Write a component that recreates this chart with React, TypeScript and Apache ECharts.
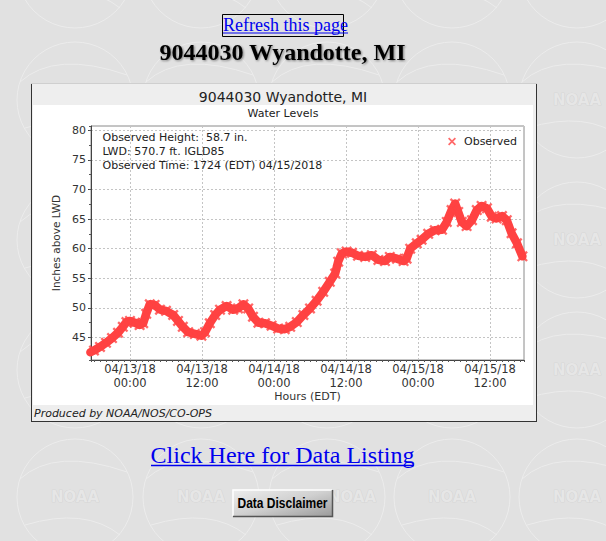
import React, { useEffect, useRef } from 'react';
import * as echarts from 'echarts';

// Hours relative to 04/13/18 00:00 EDT
const obsHours = [
  -6.6, -6.0, -5.0, -4.0, -3.0, -2.0, -1.2, -0.6, 0.0, 0.8, 1.6, 2.2, 2.7, 3.3, 4.1, 5.0, 6.0, 7.2, 8.0, 8.8,
  9.7, 10.8, 11.9, 12.5, 13.3, 14.2, 15.0, 16.1, 17.2, 18.0, 18.9, 19.7, 20.5, 21.4, 22.5, 23.6, 24.7, 25.8,
  26.7, 27.8, 28.9, 30.0, 31.1, 32.2, 33.3, 34.2, 34.7, 35.3, 36.1, 37.0, 38.0, 39.2, 40.3, 41.4, 42.5, 43.3,
  44.5, 45.6, 46.1, 46.7, 47.8, 48.6, 49.7, 50.8, 52.0, 52.8, 53.6, 54.2, 54.7, 55.3, 56.1, 57.0, 57.8, 58.6,
  59.5, 60.3, 61.1, 62.0, 62.8, 63.6, 64.5, 65.4,
];
// Water level, inches above LWD
const obsLevels = [
  42.5, 42.8, 43.4, 44.1, 44.9, 45.8, 46.8, 47.6, 47.8, 47.5, 47.1, 47.4, 49.0, 50.6, 50.5, 49.7, 49.5, 48.8, 47.8, 46.8,
  45.9, 45.6, 45.3, 45.9, 47.4, 48.8, 49.7, 50.3, 49.7, 49.9, 50.6, 49.9, 48.5, 47.5, 47.4, 47.0, 46.5, 46.4,
  46.8, 47.6, 48.8, 49.9, 51.2, 52.7, 54.4, 55.8, 57.8, 59.2, 59.5, 59.3, 58.8, 58.6, 58.9, 58.1, 57.9, 58.6,
  58.3, 57.9, 58.3, 60.0, 60.9, 61.5, 62.5, 63.1, 63.2, 64.5, 66.5, 67.6, 66.2, 64.5, 63.8, 64.8, 66.5, 67.2,
  66.8, 65.4, 65.1, 65.5, 64.8, 62.6, 60.9, 58.7,
];
const xTickHours = [0, 12, 24, 36, 48, 60];
const xTickLabels = ['04/13/18\n00:00', '04/13/18\n12:00', '04/14/18\n00:00', '04/14/18\n12:00', '04/15/18\n00:00', '04/15/18\n12:00'];
const infoLines = ['Observed Height:  58.7 in.', 'LWD: 570.7 ft. IGLD85', 'Observed Time: 1724 (EDT) 04/15/2018'];

const RED = '#ff4242';
const X_PATH = 'path://M0,1.5L1.5,0L5,3.5L8.5,0L10,1.5L6.5,5L10,8.5L8.5,10L5,6.5L1.5,10L0,8.5L3.5,5Z';
const SANS = '"DejaVu Sans", sans-serif';
const SERIF = '"Liberation Serif", "Times New Roman", serif';

const GL = 91, GT = 126, GW = 433, GH = 234;

const WM_COLS = [75, 201, 327, 452, 577];
const WM_ROWS = [-30, 100, 240, 370, 497];

function watermarkText(x: number, y: number) {
  return {
    type: 'text', x, y, z: -30,
    style: { text: 'NOAA', font: 'bold 15px "DejaVu Sans"', fill: '#e6e6e6', stroke: '#cfcfcf', lineWidth: 0.7, align: 'center', verticalAlign: 'middle' },
  };
}
function watermarkSwirl(x: number, y: number) {
  return [
    { type: 'arc', z: -31, shape: { cx: x, cy: y, r: 58, startAngle: 0, endAngle: Math.PI * 2 }, style: { stroke: '#ececec', lineWidth: 1, fill: null } },
    { type: 'bezierCurve', z: -31, shape: { x1: x - 55, y1: y - 18, cpx1: x - 20, cpy1: y - 50, x2: x + 52, y2: y - 25 }, style: { stroke: '#ececec', lineWidth: 1, fill: null } },
    { type: 'bezierCurve', z: -31, shape: { x1: x - 50, y1: y + 28, cpx1: x + 10, cpy1: y + 10, x2: x + 45, y2: y + 38 }, style: { stroke: '#ececec', lineWidth: 1, fill: null } },
  ];
}

export default function App() {
  const ref = useRef<HTMLDivElement>(null);
  useEffect(() => {
    const chart = echarts.init(ref.current!, null, { renderer: 'svg' });
    const pts = obsHours.map((h, i) => [h, obsLevels[i]]);
    const swirls: any[] = [];
    WM_COLS.forEach((x) => WM_ROWS.forEach((y) => swirls.push(...watermarkSwirl(x, y))));
    const wm = [
      [577, 100], [577, 240], [577, 370], [577, 497], [452, 497], [352, 497], [201, 497], [75, 497],
    ].map(([x, y]) => watermarkText(x, y));
    const option: any = {
      animation: false,
      backgroundColor: '#e1e1e1',
      grid: { left: GL, top: GT, width: GW, height: GH, show: true, borderColor: '#8a8a8a', borderWidth: 1, backgroundColor: '#ffffff', outerBoundsMode: 'none', containLabel: false },
      legend: {
        data: ['Observed'], left: 448, top: 136, padding: 0, itemWidth: 8, itemHeight: 8, icon: X_PATH,
        textStyle: { fontSize: 11, fontFamily: SANS, color: '#222', padding: [0, 0, 0, 3] },
      },
      xAxis: [
        {
          type: 'value', position: 'bottom', min: -6.5, max: 65.67, minInterval: 12, maxInterval: 12, splitNumber: 6,
          name: 'Hours (EDT)', nameLocation: 'middle', nameGap: 22,
          nameTextStyle: { fontSize: 11, fontFamily: SANS, color: '#333' },
          axisLine: { onZero: false, lineStyle: { color: '#444', width: 1 } },
          axisTick: { show: false },
          axisLabel: {
            margin: 2, fontSize: 11.5, lineHeight: 14, fontFamily: SANS, color: '#333', showMinLabel: false, showMaxLabel: false,
            formatter: (v: number) => {
              const i = xTickHours.findIndex((t) => Math.abs(t - v) < 1e-6);
              return i >= 0 ? xTickLabels[i] : '';
            },
          },
          splitLine: { show: true, lineStyle: { color: '#c4c4c4', type: [2, 2], width: 1 } },
        },
        {
          type: 'value', position: 'bottom', min: -6.5, max: 65.67, minInterval: 1, maxInterval: 1, splitNumber: 72,
          axisLine: { show: false, onZero: false }, axisLabel: { show: false }, splitLine: { show: false },
          axisTick: { show: true, length: 2, lineStyle: { color: '#555' } },
        },
      ],
      yAxis: [
        {
          type: 'value', position: 'left', min: 41.2, max: 80.7, minInterval: 5, maxInterval: 5, splitNumber: 8,
          name: 'Inches above LWD', nameLocation: 'middle', nameGap: 21,
          nameTextStyle: { fontSize: 10.5, fontFamily: SANS, color: '#333' },
          axisLine: { show: true, onZero: false, lineStyle: { color: '#444', width: 1 } },
          axisTick: { show: true, length: 3, lineStyle: { color: '#444' } },
          axisLabel: {
            margin: 5, fontSize: 11, fontFamily: SANS, color: '#333', showMinLabel: false, showMaxLabel: false,
            formatter: (v: number) => (Math.abs(v % 5) < 1e-6 ? String(v) : ''),
          },
          splitLine: { show: true, lineStyle: { color: '#c4c4c4', type: [2, 2], width: 1 } },
        },
        {
          type: 'value', position: 'left', min: 41.2, max: 80.7, minInterval: 2.5, maxInterval: 2.5, splitNumber: 16,
          axisLine: { show: false, onZero: false }, axisLabel: { show: false }, splitLine: { show: false },
          axisTick: { show: true, length: 2, lineStyle: { color: '#555' } },
        },
      ],
      series: [
        {
          name: 'band', type: 'line', data: pts, xAxisIndex: 0, yAxisIndex: 0, showSymbol: false, symbol: 'none',
          lineStyle: { color: RED, width: 8.5, join: 'round', cap: 'round' }, silent: true, z: 2,
        },
        {
          name: 'Observed', type: 'scatter', data: pts, xAxisIndex: 0, yAxisIndex: 0,
          symbol: X_PATH, symbolSize: 11, itemStyle: { color: RED }, z: 3,
        },
      ],
      graphic: {
        elements: [
          ...swirls,
          ...wm,
          // chart image frame
          { type: 'rect', z: -10, shape: { x: 31, y: 83, width: 506, height: 339 }, style: { fill: '#eeeeee', stroke: null } },
          { type: 'rect', z: -9, shape: { x: 33, y: 105, width: 500, height: 300 }, style: { fill: '#ffffff' } },
          { type: 'line', z: -8, shape: { x1: 31.5, y1: 83, x2: 31.5, y2: 422 }, style: { stroke: '#333', lineWidth: 1 } },
          { type: 'line', z: -8, shape: { x1: 536.5, y1: 83, x2: 536.5, y2: 422 }, style: { stroke: '#333', lineWidth: 1 } },
          { type: 'line', z: -8, shape: { x1: 31, y1: 421.5, x2: 537, y2: 421.5 }, style: { stroke: '#333', lineWidth: 1 } },
          { type: 'line', z: -8, shape: { x1: 31, y1: 83.5, x2: 537, y2: 83.5 }, style: { stroke: '#cfcfcf', lineWidth: 1 } },
          { type: 'text', x: 283, y: 97, z: 5, style: { text: '9044030 Wyandotte, MI', font: '14px "DejaVu Sans"', fill: '#222', align: 'center', verticalAlign: 'middle' } },
          { type: 'text', x: 283, y: 113.5, z: 5, style: { text: 'Water Levels', font: '11px "DejaVu Sans"', fill: '#222', align: 'center', verticalAlign: 'middle' } },
          { type: 'text', x: 102.5, y: 130, z: 5, style: { text: infoLines.join('\n'), font: '11px "DejaVu Sans"', lineHeight: 14.2, fill: '#222', align: 'left', verticalAlign: 'top' } },
          { type: 'text', x: 34, y: 413, z: 5, style: { text: 'Produced by NOAA/NOS/CO-OPS', font: 'italic 11px "DejaVu Sans"', fill: '#222', align: 'left', verticalAlign: 'middle' } },
          // page header
          { type: 'rect', z: 5, shape: { x: 222.5, y: 14.5, width: 121, height: 22 }, style: { fill: 'none', stroke: '#000', lineWidth: 1 } },
          { type: 'text', x: 223, y: 25, z: 6, style: { text: 'Refresh this page', font: '18px ' + SERIF, fill: '#0000ee', align: 'left', verticalAlign: 'middle' } },
          { type: 'line', z: 6, shape: { x1: 223, y1: 33, x2: 348, y2: 33 }, style: { stroke: '#0000ee', lineWidth: 1 } },
          { type: 'text', x: 282.5, y: 52, z: 6, style: { text: '9044030 Wyandotte, MI', font: 'bold 24px ' + SERIF, fill: '#000', align: 'center', verticalAlign: 'middle', textShadowColor: 'rgba(0,0,0,0.45)', textShadowBlur: 2, textShadowOffsetX: 1, textShadowOffsetY: 1 } },
          // footer link
          { type: 'text', x: 282.5, y: 455, z: 6, style: { text: 'Click Here for Data Listing', font: '24px ' + SERIF, fill: '#0000ee', align: 'center', verticalAlign: 'middle' } },
          { type: 'line', z: 6, shape: { x1: 151, y1: 465.5, x2: 414, y2: 465.5 }, style: { stroke: '#0000ee', lineWidth: 1.5 } },
          // button
          {
            type: 'rect', z: 5, shape: { x: 232.5, y: 489.5, width: 100, height: 27 },
            style: {
              fill: new echarts.graphic.LinearGradient(0, 0, 1, 1, [
                { offset: 0, color: '#eeeeee' }, { offset: 0.5, color: '#d0d0d0' }, { offset: 1, color: '#9a9a9a' },
              ]),
              stroke: null,
            },
          },
          { type: 'polyline', z: 6, shape: { points: [[233, 516], [233, 490], [332, 490]] }, style: { stroke: '#ffffff', lineWidth: 1.5, fill: null } },
          { type: 'polyline', z: 6, shape: { points: [[332.5, 490], [332.5, 516.5], [233, 516.5]] }, style: { stroke: '#555555', lineWidth: 1.5, fill: null } },
          { type: 'text', x: 282.5, y: 503.5, z: 7, scaleX: 0.8, style: { text: 'Data Disclaimer', font: 'bold 15px "Liberation Sans", Arial, sans-serif', fill: '#000', align: 'center', verticalAlign: 'middle' } },
        ],
      },
    };
    chart.setOption(option);
    return () => chart.dispose();
  }, []);
  return <div ref={ref} style={{ position: 'absolute', left: 0, top: 0, width: 606, height: 541 }} />;
}
